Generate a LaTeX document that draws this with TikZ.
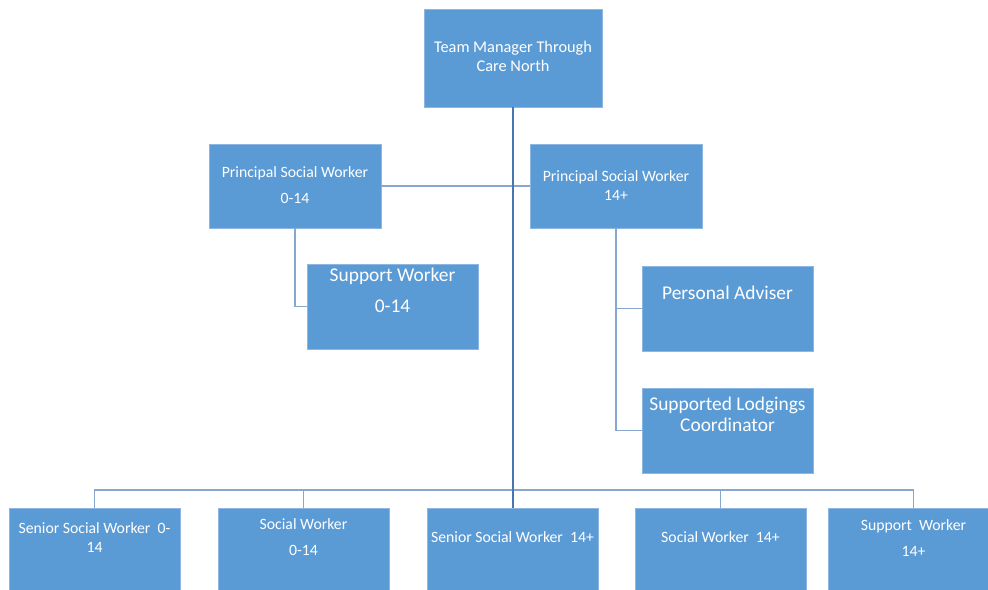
\documentclass[tikz,border=0pt]{standalone}
\usepackage{fontspec}
\setmainfont{Carlito}
\definecolor{boxblue}{HTML}{5B9BD5}
\definecolor{boxedge}{HTML}{8DB6E2}
\definecolor{trunkblue}{HTML}{4A76AF}
\definecolor{linkblue}{HTML}{86A8D0}
\tikzset{
  box/.style={rectangle, fill=boxblue, draw=boxedge, line width=0.6bp,
    minimum width=171bp, minimum height=85bp, inner sep=0pt},
  txt/.style={text=white, align=center, inner sep=0pt, font=\fontsize{15.8}{19}\selectfont},
  bigtxt/.style={txt, font=\fontsize{19.5}{21}\selectfont},
  link/.style={draw=linkblue, line width=1.1bp},
  trunk/.style={draw=trunkblue, line width=1.3bp}
}
\begin{document}
\begin{tikzpicture}[x=1bp, y=-1bp]
\clip (0,0) rectangle (988,590);
\fill[white] (0,0) rectangle (988,590);

% top
\node[box, minimum width=178bp, minimum height=98bp] (tm) at (513,58) {};
\node[txt, font=\fontsize{16.4}{19}\selectfont] (tm-t) at (513,56.5) {Team Manager Through\\Care North};

% principals
\node[box, minimum width=172bp, minimum height=84bp] (psa) at (295,186) {};
\node[txt] (psa-t) at (295,185) {Principal Social Worker\\[7bp]0-14};
\node[box, minimum width=172bp, minimum height=84bp] (psb) at (616,186) {};
\node[txt] (psb-t) at (616,185.5) {Principal Social Worker\\14+};

% under the principals
\node[box] (sw) at (392.5,306.5) {};
\node[bigtxt] (sw-t) at (392.5,290.5) {Support Worker\\[10bp]0-14};
\node[box] (pa) at (727.5,308.5) {};
\node[bigtxt] (pa-t) at (727.5,293) {Personal Adviser};
\node[box] (slc) at (727.5,430.5) {};
\node[bigtxt] (slc-t) at (727.5,414.5) {Supported Lodgings\\Coordinator};

% bottom row
\node[box, minimum height=110bp] (ssa) at (94.5,563) {};
\node[txt] (ssa-t) at (94.5,537.5) {Senior Social Worker~~0-\\14};
\node[box, minimum height=110bp] (swa) at (303.5,563) {};
\node[txt] (swa-t) at (303.5,537) {Social Worker\\[7bp]0-14};
\node[box, minimum height=110bp] (ssb) at (512.5,563) {};
\node[txt] (ssb-t) at (512.5,537) {Senior Social Worker~~14+};
\node[box, minimum height=110bp] (swb) at (720.5,563) {};
\node[txt] (swb-t) at (720.5,537) {Social Worker~~14+};
\node[box, minimum height=110bp] (spb) at (913.5,563) {};
\node[txt] (spb-t) at (913.5,538) {Support~~Worker\\[7bp]14+};

% connectors
\coordinate (bus) at (513,490);
\foreach \n in {ssa,swa,swb,spb}
  \draw[link] (\n.north) |- (bus);
\draw[link] (psa.east) -- (psb.west);
\draw[link] (psa.south) |- (sw.west);
\draw[link] (psb.south) |- (pa.west);
\draw[link] (psb.south) |- (slc.west);
\draw[trunk] (tm.south) -- (tm.south |- ssb.north);
\end{tikzpicture}
\end{document}
